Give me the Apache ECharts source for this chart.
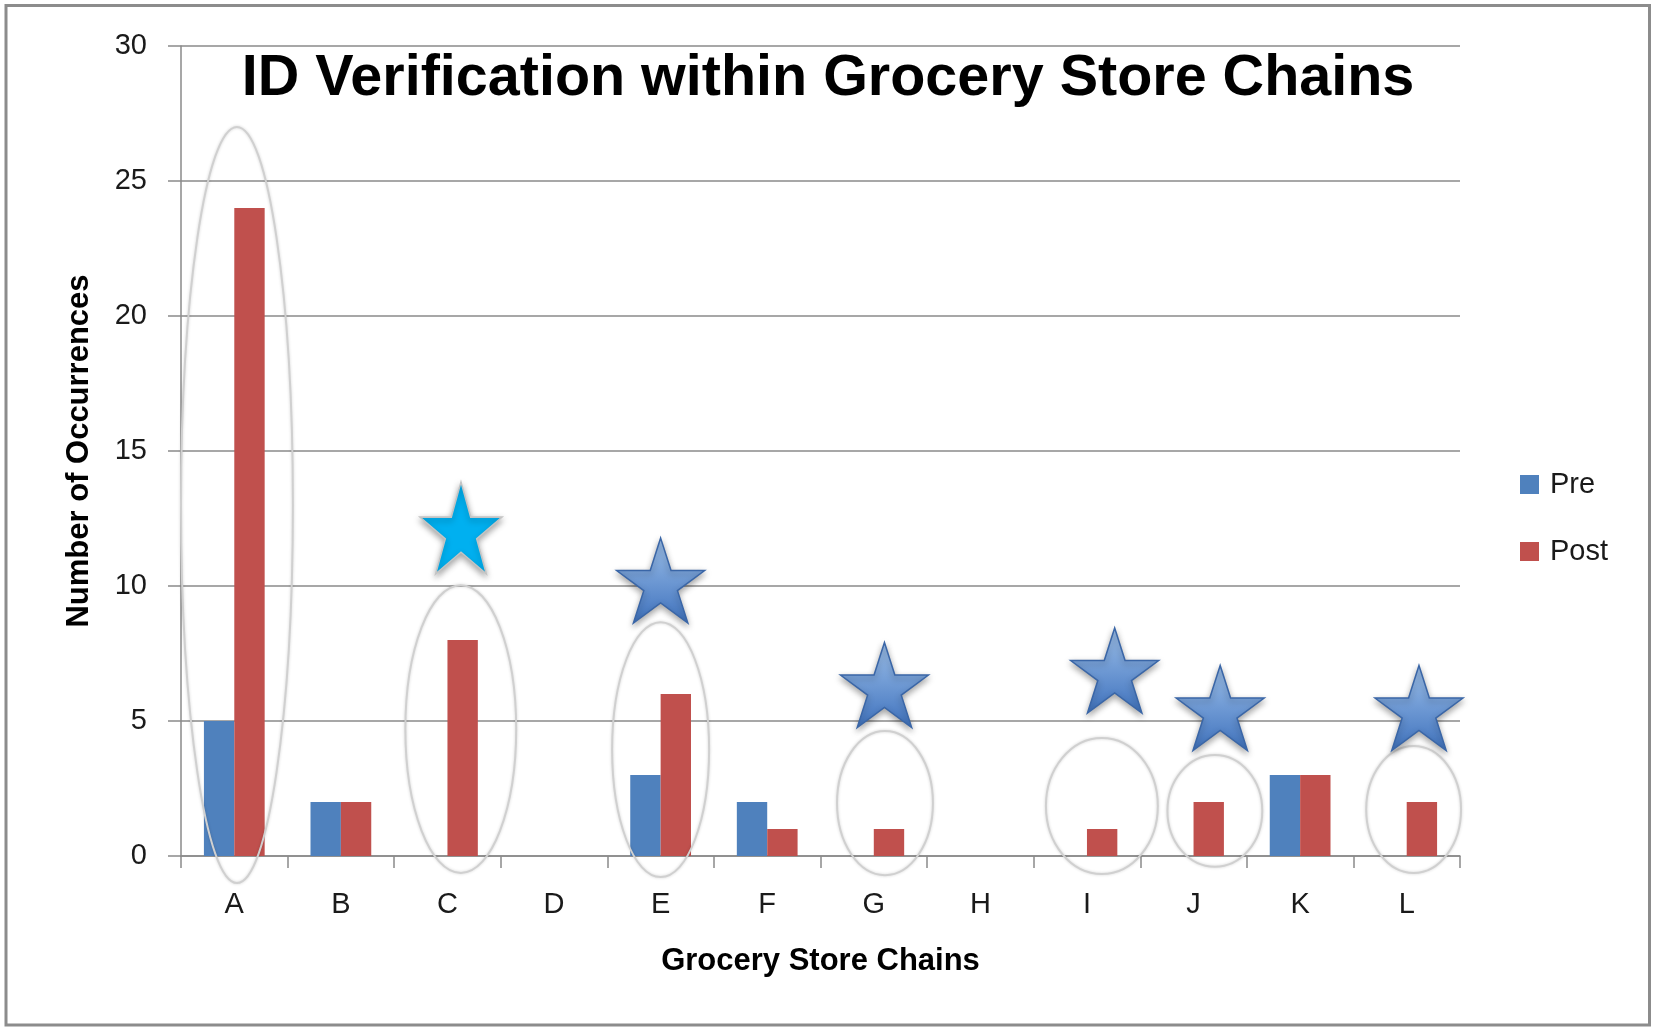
<!DOCTYPE html>
<html>
<head>
<meta charset="utf-8">
<title>ID Verification within Grocery Store Chains</title>
<script src="https://cdn.jsdelivr.net/npm/echarts@6/dist/echarts.min.js"></script>
<style>
  html, body { margin: 0; padding: 0; background: #fff; }
  #chart { width: 1653px; height: 1027px; }
</style>
</head>
<body>
<div id="chart"></div>
<script>
// chart data
const stores = ["A", "B", "C", "D", "E", "F", "G", "H", "I", "J", "K", "L"];
const preValues = [5, 2, 0, 0, 3, 2, 0, 0, 0, 0, 3, 0];
const postValues = [24, 2, 8, 0, 6, 1, 1, 0, 1, 2, 3, 2];
const yTicks = [0, 5, 10, 15, 20, 25, 30];

// annotations, in axis units (x = store index, y = occurrences)
const ellipseX = [0.025, 2.125, 4.0, 6.105, 8.14, 9.2, 11.065];
const ellipseY = [13.0, 4.7, 3.94, 1.96, 1.85, 1.67, 1.72];
const ellipseRx = [0.525, 0.52, 0.455, 0.45, 0.525, 0.445, 0.445];
const ellipseRy = [14.0, 5.33, 4.72, 2.67, 2.52, 2.07, 2.35];

const cyanStarX = [2.127];
const cyanStarY = [12.15];
const blueStarX = [4.0, 6.1, 8.26, 9.25, 11.115];
const blueStarY = [10.2, 6.33, 6.87, 5.48, 5.48];

const FONT = "Liberation Sans";
const GRID_COLOR = "#8a8a8a";

// five point star outline for the symbol
function starPath() {
  let d = "";
  for (let k = 0; k < 10; k++) {
    const a = (-90 + 36 * k) * Math.PI / 180;
    const r = k % 2 === 0 ? 50 : 50 * 0.382;
    d += (k === 0 ? "M" : "L") + (50 + r * Math.cos(a)).toFixed(2) + " " + (50 + r * Math.sin(a)).toFixed(2) + " ";
  }
  return "path://" + d + "Z";
}

const ellipseData = ellipseX.map((x, i) => [x, ellipseY[i], ellipseRx[i], ellipseRy[i]]);
const chart = echarts.init(document.getElementById("chart"));

const option = {
  animation: false,
  backgroundColor: "#fff",
  color: ["#4F81BD", "#C0504D"],
  title: {
    text: "ID Verification within Grocery Store Chains",
    left: 828,
    top: 50,
    textAlign: "center",
    padding: 0,
    textStyle: { fontFamily: FONT, fontWeight: "bold", fontSize: 57.5, color: "#000" },
  },
  legend: {
    data: ["Pre", "Post"],
    orient: "vertical",
    left: 1520,
    top: 470,
    padding: 0,
    itemWidth: 19,
    itemHeight: 19,
    itemGap: 38,
    icon: "rect",
    textStyle: { fontFamily: FONT, fontSize: 29, color: "#1a1a1a", padding: [0, 0, 0, 6] },
  },
  grid: { left: 181, right: 193, top: 46, bottom: 171 },
  xAxis: [
    {
      type: "category",
      data: stores,
      name: "Grocery Store Chains",
      nameLocation: "middle",
      nameGap: 90,
      nameTextStyle: { fontFamily: FONT, fontWeight: "bold", fontSize: 31, color: "#000" },
      axisLine: { show: true, onZero: false, lineStyle: { color: GRID_COLOR, width: 1.5 } },
      axisTick: { show: true, alignWithLabel: false, length: 12, lineStyle: { color: GRID_COLOR, width: 1.5 } },
      axisLabel: { fontFamily: FONT, fontSize: 29, color: "#1a1a1a", margin: 34 },
      splitLine: { show: false },
    },
    {
      type: "value",
      min: -0.5,
      max: 11.5,
      show: false,
    },
  ],
  yAxis: {
    type: "value",
    min: 0,
    max: 30,
    interval: 5,
    name: "Number of Occurrences",
    nameLocation: "middle",
    nameGap: 86,
    nameTextStyle: { fontFamily: FONT, fontWeight: "bold", fontSize: 31, color: "#000" },
    axisLine: { show: true, onZero: false, lineStyle: { color: GRID_COLOR, width: 1.5 } },
    axisTick: { show: true, length: 13, lineStyle: { color: GRID_COLOR, width: 1.5 } },
    axisLabel: {
      fontFamily: FONT,
      fontSize: 29,
      color: "#1a1a1a",
      margin: 34,
      formatter: (v) => (yTicks.indexOf(v) >= 0 ? String(v) : ""),
    },
    splitLine: { show: true, lineStyle: { color: GRID_COLOR, width: 1.5 } },
  },
  graphic: [
    {
      type: "rect",
      shape: { x: 6, y: 5.5, width: 1643.5, height: 1019.5 },
      style: { fill: "none", stroke: "#8c8c8c", lineWidth: 3 },
      z: 100,
      silent: true,
    },
  ],
  series: [
    {
      name: "Pre",
      type: "bar",
      data: preValues,
      barGap: "0%",
      barCategoryGap: "43%",
      itemStyle: { color: "#4F81BD" },
      z: 2,
    },
    {
      name: "Post",
      type: "bar",
      data: postValues,
      itemStyle: { color: "#C0504D" },
      z: 2,
    },
    {
      name: "circles",
      type: "custom",
      xAxisIndex: 1,
      yAxisIndex: 0,
      data: ellipseData,
      silent: true,
      z: 5,
      renderItem: function (params, api) {
        const c = api.coord([api.value(0), api.value(1)]);
        const s = api.size([api.value(2), api.value(3)]);
        return {
          type: "ellipse",
          shape: { cx: c[0], cy: c[1], rx: s[0], ry: s[1] },
          style: {
            fill: "none",
            stroke: "#d0d0d0",
            lineWidth: 2,
            shadowBlur: 3,
            shadowColor: "rgba(0,0,0,0.18)",
          },
        };
      },
    },
    {
      name: "highlight",
      type: "scatter",
      xAxisIndex: 1,
      yAxisIndex: 0,
      data: cyanStarX.map((x, i) => [x, cyanStarY[i]]),
      symbol: starPath(),
      symbolSize: [82, 92],
      silent: true,
      z: 6,
      itemStyle: {
        color: "#00B0F0",
        borderColor: "#c4c4c4",
        borderWidth: 1.5,
        shadowBlur: 6,
        shadowOffsetY: 3,
        shadowColor: "rgba(0,0,0,0.35)",
        opacity: 1,
      },
    },
    {
      name: "stars",
      type: "scatter",
      xAxisIndex: 1,
      yAxisIndex: 0,
      data: blueStarX.map((x, i) => [x, blueStarY[i]]),
      symbol: starPath(),
      symbolSize: [88, 85],
      silent: true,
      z: 6,
      itemStyle: {
        color: {
          type: "linear",
          x: 0, y: 0, x2: 0, y2: 1,
          colorStops: [
            { offset: 0, color: "#9DC0EA" },
            { offset: 1, color: "#3F72BD" },
          ],
        },
        borderColor: "#3A66A7",
        borderWidth: 1.5,
        shadowBlur: 6,
        shadowOffsetY: 3,
        shadowColor: "rgba(0,0,0,0.35)",
        opacity: 1,
      },
    },
  ],
};

chart.setOption(option);
</script>
</body>
</html>
